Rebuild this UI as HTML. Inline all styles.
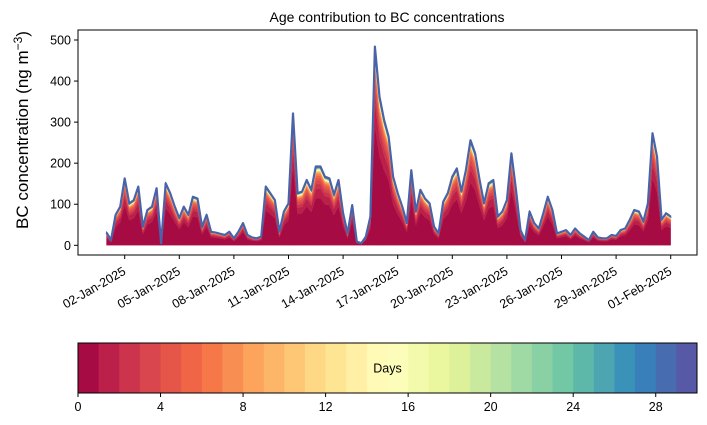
<!DOCTYPE html>
<html><head><meta charset="utf-8"><style>
body{margin:0;background:#fff;}
svg{display:block;font-family:"Liberation Sans","DejaVu Sans",sans-serif;}
</style></head><body>
<svg id="c" width="707" height="425" viewBox="0 0 707 425">
<text x="387" y="22" text-anchor="middle" font-size="14">Age contribution to BC concentrations</text>
<text transform="translate(28,130) rotate(-90)" text-anchor="middle" font-size="17">BC concentration (ng m<tspan dy="-6" font-size="12">−3</tspan><tspan dy="6">)</tspan></text>
<g id="plot"></g>
<g id="cbar"></g>
</svg>
<script>
const totals=[31,13,74,94,163,102,110,143,45,86,94,139,5,151,127,94,66,94,74,118,114,45,74,33,31,28,25,33,17,33,54,25,19,17,21,143,127,110,33,82,102,321,127,131,159,135,192,192,167,163,123,159,78,29,98,9,5,21,70,484,362,305,265,167,127,94,54,183,82,135,114,102,45,29,106,127,167,187,131,183,256,224,159,102,151,159,70,82,110,224,135,37,13,82,54,41,78,118,86,29,33,37,25,41,29,21,13,33,19,17,17,25,23,37,41,62,86,82,58,102,273,216,62,78,70];
const ageShare=[0.60,0.12,0.06,0.045,0.035,0.025,0.018,0.013,0.01,0.008,0.006,0.005,0.004,0.004,0.004,0.004,0.003,0.003,0.003,0.003,0.003,0.003,0.003,0.003,0.003,0.003,0.003,0.003,0.003,0.003];
const yTicks=[0,100,200,300,400,500];
const xTickLabels=["02-Jan-2025","05-Jan-2025","08-Jan-2025","11-Jan-2025","14-Jan-2025","17-Jan-2025","20-Jan-2025","23-Jan-2025","26-Jan-2025","29-Jan-2025","01-Feb-2025"];
const xTickDays=[1,4,7,10,13,16,19,22,25,28,31];
const cbarTicks=[0,4,8,12,16,20,24,28];
const stepDays=0.25;

const NS="http://www.w3.org/2000/svg";
const X0=78,X1=697,Y0=30,Y1=255;
const xs=d=>106.5+18.2*d;
const ys=v=>245.3-v*0.4106;
const anchors=["#9e0142","#d53e4f","#f46d43","#fdae61","#fee08b","#ffffbf","#e6f598","#abdda4","#66c2a5","#3288bd","#5e4fa2"];
function hx(h){return [1,3,5].map(i=>parseInt(h.substr(i,2),16));}
function spectral(t){const p=t*10,i=Math.min(9,Math.floor(p)),f=p-i;const a=hx(anchors[i]),b=hx(anchors[i+1]);return "rgb("+a.map((v,k)=>Math.round(v+(b[k]-v)*f)).join(",")+")";}
function el(tag,attrs,parent){const e=document.createElementNS(NS,tag);for(const k in attrs)e.setAttribute(k,attrs[k]);parent.appendChild(e);return e;}
const plot=document.getElementById("plot");
const fr=el("rect",{x:X0,y:Y0,width:X1-X0,height:Y1-Y0,fill:"none",stroke:"#000","stroke-width":1},plot);


const shareSum=ageShare.reduce((s,x)=>s+x,0);
let base=totals.map(()=>0);
for(let a=0;a<ageShare.length;a++){
  const top=totals.map((v,i)=>base[i]+v*ageShare[a]/shareSum);
  let d="M"+xs(0)+","+ys(base[0]);
  top.forEach((v,i)=>{d+=" L"+xs(i*stepDays).toFixed(1)+","+ys(v).toFixed(1);});
  for(let i=base.length-1;i>=0;i--)d+=" L"+xs(i*stepDays).toFixed(1)+","+ys(base[i]).toFixed(1);
  const p=el("path",{d:d+"Z",fill:spectral((a+0.5)/30),stroke:spectral((a+0.5)/30),"stroke-width":a>20?1:0.3},plot);
  
  
  base=top;
}
let ld="";totals.forEach((v,i)=>{ld+=(i?" L":"M")+xs(i*stepDays).toFixed(1)+","+ys(v).toFixed(1);});
const ln=el("path",{d:ld,fill:"none",stroke:"#4a63a8","stroke-width":2.2,"stroke-linejoin":"round"},plot);


yTicks.forEach(v=>{
  const t=el("line",{x1:X0-4,x2:X0,y1:ys(v),y2:ys(v),stroke:"#000"},plot);
  
  
  const tx=el("text",{x:X0-7,y:ys(v)+4.5,"text-anchor":"end","font-size":12.5},plot);
  
  
  tx.textContent=v;
});
xTickDays.forEach((d,i)=>{
  const x=xs(d);
  const t=el("line",{x1:x,x2:x,y1:Y1,y2:Y1+4,stroke:"#000"},plot);
  
  
  const tx=el("text",{transform:"translate("+(x-3)+","+(Y1+10)+") rotate(-30)","text-anchor":"end","font-size":12.5,dy:"0.8em"},plot);
  
  
  tx.textContent=xTickLabels[i];
});
const cb=document.getElementById("cbar");
const CX0=78,CX1=697,CY0=343,CY1=393,cw=(CX1-CX0)/30;
for(let a=0;a<30;a++){
  const r=el("rect",{x:CX0+a*cw,y:CY0,width:cw+0.5,height:CY1-CY0,fill:spectral((a+0.5)/30)},cb);
  
  
}
const cf=el("rect",{x:CX0,y:CY0,width:CX1-CX0,height:CY1-CY0,fill:"none",stroke:"#000"},cb);


cbarTicks.forEach(v=>{
  const x=CX0+v*cw;
  const t=el("line",{x1:x,x2:x,y1:CY1,y2:CY1+4,stroke:"#000"},cb);
  
  
  const tx=el("text",{x:x,y:CY1+18,"text-anchor":"middle","font-size":12.5},cb);
  
  
  tx.textContent=v;
});
const dl=el("text",{x:(CX0+CX1)/2,y:(CY0+CY1)/2+4.5,"text-anchor":"middle","font-size":12.5},cb);


dl.textContent="Days";
</script>
</body></html>
